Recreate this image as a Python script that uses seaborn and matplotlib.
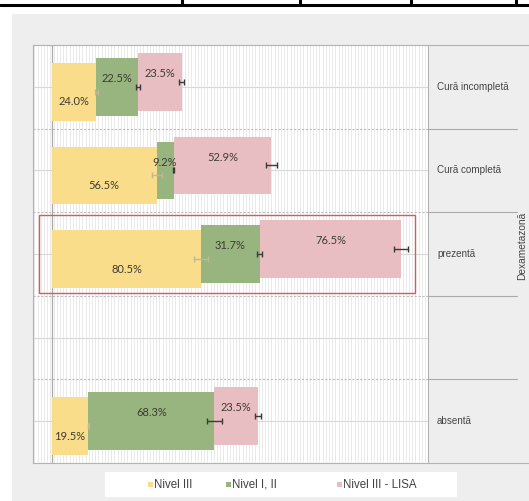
import numpy as np
import pandas as pd
import seaborn as sns
import matplotlib.pyplot as plt
from matplotlib.patches import Rectangle
from matplotlib.lines import Line2D
from matplotlib.transforms import blended_transform_factory

# ---- data -------------------------------------------------------------
categories = ["Cură incompletă", "Cură completă", "prezentă", "", "absentă"]
series = ["Nivel III", "Nivel I, II", "Nivel III - LISA"]
nivel_3 = [24.0, 56.5, 80.5, np.nan, 19.5]
nivel_1_2 = [22.5, 9.2, 31.7, np.nan, 68.3]
nivel_3_lisa = [23.5, 52.9, 76.5, np.nan, 23.5]
err_nivel_3 = [0.8, 2.7, 4.0, np.nan, 0.3]
err_nivel_1_2 = [1.3, 0.3, 1.5, np.nan, 3.8]
err_nivel_3_lisa = [1.3, 3.0, 3.8, np.nan, 1.5]
group_label = "Dexametazonă"

df = pd.DataFrame({
    "categorie": categories,
    series[0]: nivel_3,
    series[1]: nivel_1_2,
    series[2]: nivel_3_lisa,
})
errs = {series[0]: err_nivel_3, series[1]: err_nivel_1_2, series[2]: err_nivel_3_lisa}

# ---- style ------------------------------------------------------------
sns.set_theme(style="white")
plt.rcParams["font.family"] = ["Liberation Sans", "DejaVu Sans"]
palette = dict(zip(series, ["#fadd8a", "#98b47f", "#e8bec3"]))
err_colors = dict(zip(series, ["#c4b894", "#3a3a3a", "#3a3a3a"]))
bar_shift = dict(zip(series, [0.06, 0.0, -0.06]))
label_shift = dict(zip(series, [0.18, -0.10, -0.16]))

W, H = 529, 501
fig = plt.figure(figsize=(W / 100, H / 100), dpi=100, facecolor="white")


def fx(px):
    return px / W


def fy(py):
    return 1 - py / H


# grey panel behind the chart
fig.patches.append(Rectangle((fx(12), 0), 1 - fx(12), fy(14), transform=fig.transFigure,
                             facecolor="#eeeeee", edgecolor="none", zorder=-10))
# table rule above the panel
fig.add_artist(Line2D([0, 1], [fy(5), fy(5)], color="black", lw=2.2))
for xv in [182, 300, 411, 516]:
    fig.add_artist(Line2D([fx(xv), fx(xv)], [fy(0), fy(5)], color="black", lw=2.2))

ax = fig.add_axes([fx(33), fy(463), fx(428) - fx(33), fy(45) - fy(463)])
ax.set_zorder(1)
ax.set_facecolor("white")
ax.set_xlim(-10.3, 203.2)
ax.set_ylim(4.5, -0.5)

# dense vertical grid, row lines and dashed separators
ax.vlines(np.arange(-9.5, 203, 1.73), -0.5, 4.5, color="#e7e7e7", lw=0.6, zorder=0)
ax.hlines(range(len(categories)), -10.3, 203.2, color="#d8d8d8", lw=0.8, zorder=0.5)
ax.hlines([0.5, 1.5, 2.5, 3.5], -10.3, 203.2, color="#bdbdbd", lw=0.8,
          linestyles=(0, (2.0, 1.5)), zorder=0.5)
ax.axvline(0, color="#a9a9a9", lw=0.9, zorder=0.6)

# stacked, slightly offset bars
rows = np.arange(len(categories))
left = np.zeros(len(categories))
for s in series:
    vals = df[s].to_numpy(dtype=float)
    ok = ~np.isnan(vals)
    ys = rows[ok] + bar_shift[s]
    ax.barh(ys, vals[ok], left=left[ok], height=0.69, color=palette[s], edgecolor="none", zorder=2)
    ends = left[ok] + vals[ok]
    ax.errorbar(ends, ys, xerr=np.array(errs[s])[ok], fmt="none", ecolor=err_colors[s],
                elinewidth=1.0, capsize=2.2, capthick=1.0, zorder=3)
    for x0, v, r in zip(left[ok], vals[ok], rows[ok]):
        ax.text(x0 + v / 2, r + label_shift[s], f"{v:.1f}%", ha="center", va="center",
                fontsize=8, family=["Lato", "DejaVu Sans"], color="#3d3c33", zorder=4)
    left[ok] = ends

# highlighted row
ax.add_patch(Rectangle((-7.0, 1.53), 203.2, 0.94, fill=False, edgecolor="#d65a62",
                       lw=1.0, clip_on=False, zorder=5))

ax.set_xticks([])
ax.set_yticks([])
for sp in ax.spines.values():
    sp.set_color("#b3b3b3")
    sp.set_linewidth(0.8)

# category strip on the right
bt = blended_transform_factory(fig.transFigure, ax.transData)
for r, c in zip(rows, categories):
    if c:
        fig.text(fx(437), r, c, transform=bt, ha="left", va="center", fontsize=7.1, color="#444444")
for b in [0.5, 1.5, 2.5, 3.5]:
    fig.add_artist(Line2D([fx(428), fx(517)], [b, b], transform=bt, color="#aaaaaa", lw=0.8))
fig.add_artist(Line2D([fx(428), 1], [fy(45), fy(45)], color="#b3b3b3", lw=0.8))
fig.add_artist(Line2D([fx(428), 1], [fy(463), fy(463)], color="#b3b3b3", lw=0.8))
fig.text(fx(522.5), 1.9, group_label, transform=bt, rotation=90, ha="center", va="center",
         fontsize=7.3, color="#444444")

# legend
fig.patches.append(Rectangle((fx(105), fy(497)), fx(457) - fx(105), fy(472) - fy(497),
                             transform=fig.transFigure, facecolor="white", edgecolor="none", zorder=1))
for s, mx in zip(series, [150, 228, 339]):
    fig.patches.append(Rectangle((fx(mx - 2.5), fy(486.5)), fx(5), fy(0) - fy(5),
                                 transform=fig.transFigure, facecolor=palette[s],
                                 edgecolor="none", zorder=2))
    fig.text(fx(mx + 4), fy(484.5), s, ha="left", va="center", fontsize=8.3, color="#404040", zorder=3)

fig.savefig("out.png", dpi=100, facecolor="white")
